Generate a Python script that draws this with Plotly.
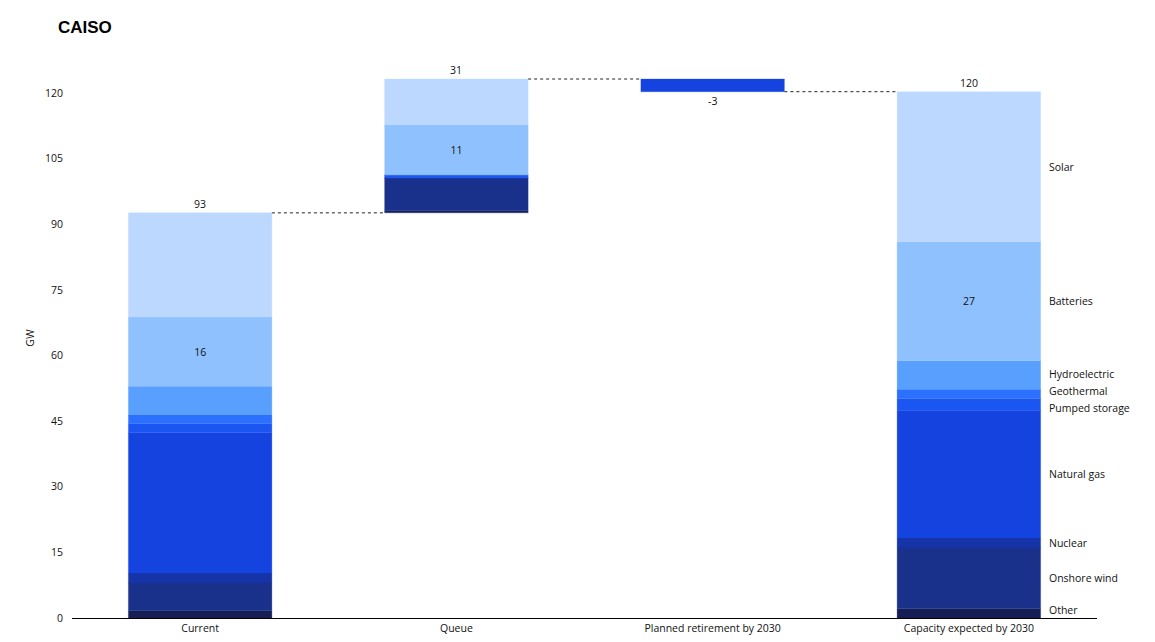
import plotly.graph_objects as go

# GW by technology, bottom to top of each stack
techs = ["Other", "Onshore wind", "Nuclear", "Natural gas", "Pumped storage",
         "Geothermal", "Hydroelectric", "Batteries", "Solar"]
colors = ["#151f56", "#1a318c", "#1634a8", "#1443e0", "#1c56f2",
          "#2b70fe", "#589ffe", "#8ec1fe", "#bcd8fe"]

current = [1.7, 6.3, 2.3, 32.1, 2.0, 2.1, 6.5, 15.8, 23.8]
queue = [0.5, 7.5, 0.0, 0.0, 0.7, 0.0, 0.0, 11.4, 10.5]
retirement = [0.0, 0.0, 0.0, -2.9, 0.0, 0.0, 0.0, 0.0, 0.0]

categories = ["Current", "Queue", "Planned retirement by 2030", "Capacity expected by 2030"]
labelled = ["Batteries"]

expected = [c + q + r for c, q, r in zip(current, queue, retirement)]
tot_cur = sum(current)
tot_q = sum(queue)
tot_r = sum(retirement)
tot_exp = sum(expected)

W = 0.56
FS = 10.5
fig = go.Figure()

# running bases per column
base_cur = 0.0
base_q = tot_cur
base_exp = 0.0
for i, t in enumerate(techs):
    vals = [current[i], queue[i], None, expected[i]]
    bases = [base_cur, base_q, None, base_exp]
    if retirement[i] != 0:
        vals[2] = retirement[i]
        bases[2] = tot_cur + tot_q
    txt = []
    for v in vals:
        if t in labelled and v:
            txt.append(f"{v:.0f}")
        else:
            txt.append("")
    fig.add_trace(go.Bar(
        x=categories, y=vals, base=bases, width=W, name=t,
        marker=dict(color=colors[i], line=dict(width=0.3, color=colors[i])),
        text=txt, textposition="inside", insidetextanchor="middle",
        textfont=dict(color="#111111", size=FS), showlegend=False,
    ))
    base_cur += current[i]
    base_q += queue[i]
    base_exp += expected[i]

# totals
fig.add_annotation(x=categories[0], y=tot_cur, text=f"{tot_cur:.0f}", showarrow=False, yanchor="bottom")
fig.add_annotation(x=categories[1], y=tot_cur + tot_q, text=f"{tot_q:.0f}", showarrow=False, yanchor="bottom")
fig.add_annotation(x=categories[2], y=tot_cur + tot_q + tot_r, text=f"{tot_r:.0f}", showarrow=False, yanchor="top")
fig.add_annotation(x=categories[3], y=tot_exp, text=f"{tot_exp:.0f}", showarrow=False, yanchor="bottom")

# connectors
levels = [tot_cur, tot_cur + tot_q, tot_cur + tot_q + tot_r]
for k, lv in enumerate(levels):
    fig.add_shape(type="line", xref="x", yref="y", x0=k + W / 2, x1=k + 1 - W / 2,
                  y0=lv, y1=lv, line=dict(color="#222222", width=1, dash="dot"))

# side labels for final column, spread to avoid overlap
centers = []
acc = 0.0
for v in expected:
    centers.append(acc + v / 2)
    acc += v
pos = centers[:]
gap = 3.9
for _ in range(200):
    for j in range(len(pos) - 1):
        d = pos[j + 1] - pos[j]
        if d < gap:
            s = (gap - d) / 2
            pos[j] -= s
            pos[j + 1] += s
    pos[0] = max(pos[0], 1.8)
for i, t in enumerate(techs):
    fig.add_annotation(x=3 + W / 2, y=pos[i], text=t, showarrow=False,
                       xanchor="left", xshift=6, font=dict(size=FS))

fig.add_annotation(text="<b>CAISO</b>", xref="paper", yref="paper", x=-16 / 1025, y=1 + 30 / 560,
                   xanchor="left", yanchor="middle", showarrow=False,
                   font=dict(family="Liberation Sans, Arial, sans-serif", size=17, color="#000000"))

# page body has an 8px margin, so the figure is drawn 8px smaller
fig.update_layout(
    width=1147, height=634,
    barmode="overlay",
    plot_bgcolor="white", paper_bgcolor="white",
    font=dict(family="Open Sans, DejaVu Sans, sans-serif", size=FS, color="#111111"),
    margin=dict(l=64, r=58, t=50, b=24, autoexpand=False),
    xaxis=dict(showline=True, linecolor="#000000", linewidth=1, ticks="", automargin=False,
               range=[-0.5, 3.5], autorange=False,
               showgrid=False, zeroline=False, tickfont=dict(size=FS)),
    yaxis=dict(range=[0, 128], tickvals=[0, 15, 30, 45, 60, 75, 90, 105, 120],
               showgrid=False, zeroline=False, showline=False, ticks="", automargin=False,
               ticklabelstandoff=8,
               title=dict(text="GW", standoff=8, font=dict(size=FS))),
)

fig.write_html("out.html")
